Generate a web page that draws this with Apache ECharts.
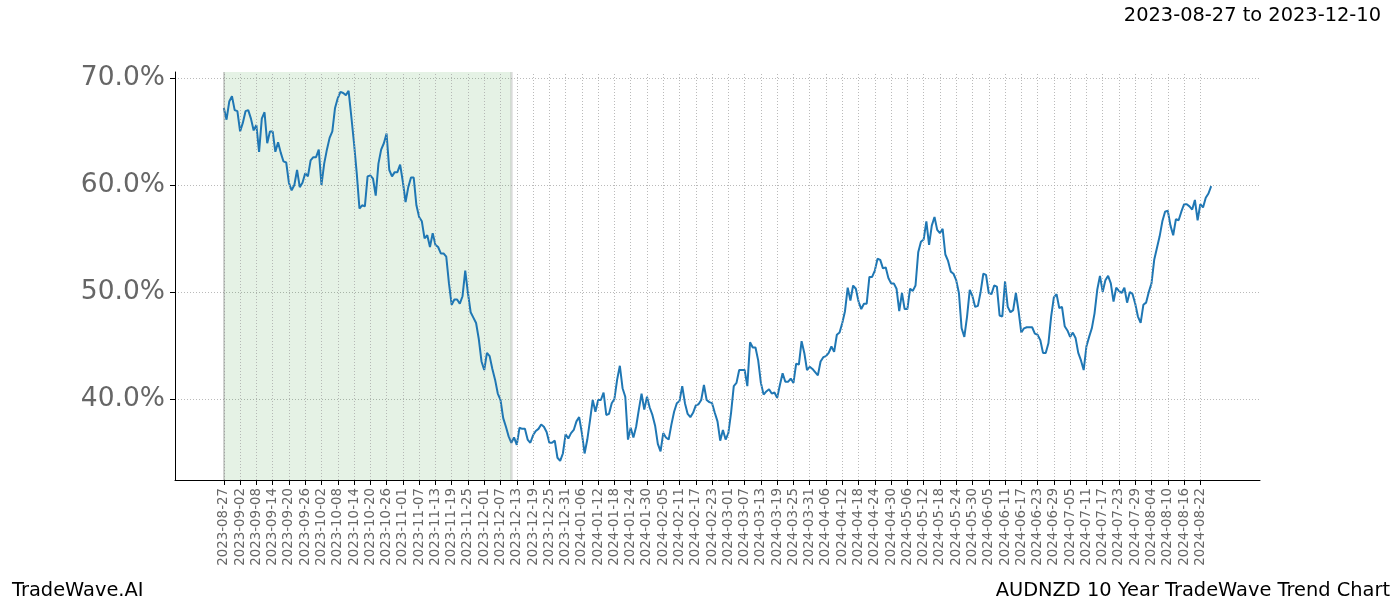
<!DOCTYPE html>
<html>
<head>
<meta charset="utf-8">
<script src="https://cdn.jsdelivr.net/npm/echarts@6/dist/echarts.min.js"></script>
<style>
html,body{margin:0;padding:0;background:#fff;}
#chart{width:1400px;height:600px;}
</style>
</head>
<body>
<div id="chart"></div>
<script>
// ---- data ----
const chartTitle = '2023-08-27 to 2023-12-10';
const leftFooter = 'TradeWave.AI';
const rightFooter = 'AUDNZD 10 Year TradeWave Trend Chart';

// daily trend strength values (%), one per calendar position starting 2023-08-27
const values = [
67.2,66.1,67.8,68.3,67.0,66.9,65.0,65.8,66.9,67.0,
66.2,65.1,65.6,63.1,66.2,66.8,63.9,65.0,65.0,63.1,
64.0,63.0,62.2,62.1,60.2,59.5,60.0,61.4,59.8,60.2,
61.1,60.8,62.3,62.6,62.6,63.3,60.0,62.0,63.3,64.4,
65.0,67.2,68.1,68.7,68.6,68.4,68.8,66.4,63.9,61.1,
57.8,58.1,58.0,60.8,60.9,60.6,59.0,62.0,63.3,63.9,
64.8,61.4,60.8,61.2,61.2,61.9,60.3,58.4,59.8,60.7,
60.7,58.1,57.0,56.6,55.0,55.3,54.2,55.5,54.4,54.2,
53.6,53.6,53.3,50.8,48.8,49.3,49.3,48.9,49.6,52.0,
49.9,48.1,47.6,47.1,45.6,43.5,42.7,44.3,44.0,42.8,
41.8,40.5,39.9,38.2,37.4,36.5,35.9,36.4,35.7,37.3,
37.2,37.2,36.2,35.9,36.6,37.0,37.2,37.6,37.4,36.9,
35.9,35.9,36.1,34.5,34.2,34.9,36.7,36.3,36.8,37.1,
37.9,38.3,36.8,34.9,36.2,38.0,39.9,38.8,39.9,39.9,
40.6,38.5,38.6,39.6,40.0,41.8,43.1,41.0,40.2,36.2,
37.3,36.4,37.4,39.0,40.5,39.0,40.2,39.2,38.5,37.5,
35.8,35.1,36.8,36.4,36.2,37.6,38.8,39.6,39.8,41.2,
39.6,38.6,38.3,38.7,39.4,39.5,39.9,41.3,39.9,39.7,
39.6,38.7,37.9,36.1,37.1,36.2,36.8,38.7,41.2,41.5,
42.7,42.7,42.7,41.2,45.3,44.8,44.8,43.6,41.5,40.4,
40.7,40.9,40.5,40.6,40.1,41.3,42.4,41.6,41.6,41.9,
41.5,43.3,43.2,45.4,44.3,42.7,43.0,42.8,42.5,42.2,
43.5,43.9,44.0,44.3,44.9,44.4,46.0,46.2,47.1,48.2,
50.4,49.2,50.6,50.3,49.1,48.4,48.9,48.9,51.4,51.4,
52.0,53.1,53.0,52.2,52.3,51.3,50.8,50.8,50.3,48.2,
49.9,48.4,48.4,50.3,50.1,50.6,53.7,54.7,54.9,56.6,
54.4,56.2,57.0,55.8,55.5,55.9,53.5,52.9,51.9,51.7,
51.1,49.9,46.6,45.8,47.7,50.2,49.6,48.6,48.7,50.0,
51.7,51.6,49.9,49.8,50.6,50.5,47.8,47.7,51.0,48.6,
48.1,48.3,49.9,48.2,46.2,46.6,46.7,46.7,46.7,46.1,
46.0,45.5,44.3,44.3,45.2,47.7,49.5,49.8,48.5,48.6,
46.8,46.4,45.8,46.2,45.7,44.3,43.6,42.7,44.9,45.8,
46.6,48.0,50.2,51.5,50.0,51.1,51.5,50.8,49.1,50.4,
50.1,49.9,50.4,49.0,50.0,49.8,48.9,47.7,47.1,48.8,
49.0,50.0,50.8,53.0,54.1,55.2,56.6,57.5,57.6,56.2,
55.3,56.8,56.7,57.5,58.2,58.2,58.0,57.7,58.6,56.7,
58.2,57.9,58.8,59.2,59.9
];

// x tick labels, one every 6 positions starting at position 0
const tickLabels = [
'2023-08-27','2023-09-02','2023-09-08','2023-09-14','2023-09-20','2023-09-26',
'2023-10-02','2023-10-08','2023-10-14','2023-10-20','2023-10-26','2023-11-01',
'2023-11-07','2023-11-13','2023-11-19','2023-11-25','2023-12-01','2023-12-07',
'2023-12-13','2023-12-19','2023-12-25','2023-12-31','2024-01-06','2024-01-12',
'2024-01-18','2024-01-24','2024-01-30','2024-02-05','2024-02-11','2024-02-17',
'2024-02-23','2024-03-01','2024-03-07','2024-03-13','2024-03-19','2024-03-25',
'2024-03-31','2024-04-06','2024-04-12','2024-04-18','2024-04-24','2024-04-30',
'2024-05-06','2024-05-12','2024-05-18','2024-05-24','2024-05-30','2024-06-05',
'2024-06-11','2024-06-17','2024-06-23','2024-06-29','2024-07-05','2024-07-11',
'2024-07-17','2024-07-23','2024-07-29','2024-08-04','2024-08-10','2024-08-16',
'2024-08-22'
];
const tickStep = 6;
const yTicks = [40, 50, 60, 70];
const shadeStart = 0;    // 2023-08-27
const shadeEnd = 106;    // just past 2023-12-10

// ---- axis padding (matplotlib-like margins) ----
const padBefore = 18;
const padAfter = 18;
const nPos = padBefore + values.length + padAfter;
const categories = [];
const seriesData = [];
for (let i = 0; i < nPos; i++) {
  categories.push(String(i - padBefore));
  const k = i - padBefore;
  seriesData.push(k >= 0 && k < values.length ? values[k] : null);
}
function isTick(index) {
  const k = index - padBefore;
  return k >= 0 && k % tickStep === 0 && (k / tickStep) < tickLabels.length;
}
// vertical grid lines at every labelled tick
const vGrid = tickLabels.map((_, j) => ({xAxis: String(j * tickStep)}));

const chart = echarts.init(document.getElementById('chart'), null, {renderer: 'canvas'});
const FONT = 'DejaVu Sans';
const GRID_COLOR = '#a8a8a8';
chart.setOption({
  animation: false,
  backgroundColor: '#ffffff',
  textStyle: {fontFamily: FONT},
  title: [
    {text: chartTitle, right: 14, top: 1,
     textStyle: {fontFamily: FONT, fontSize: 19.4, fontWeight: 'normal', color: '#000'}},
    {text: leftFooter, left: 7, top: 576,
     textStyle: {fontFamily: FONT, fontSize: 19.4, fontWeight: 'normal', color: '#000'}},
    {text: rightFooter, right: 5, top: 576,
     textStyle: {fontFamily: FONT, fontSize: 19.4, fontWeight: 'normal', color: '#000'}}
  ],
  grid: {left: 175, right: 140, top: 72, bottom: 120, containLabel: false},
  xAxis: {
    type: 'category',
    data: categories,
    boundaryGap: false,
    axisLine: {show: true, lineStyle: {color: '#000', width: 1}},
    axisTick: {show: true, length: 5, interval: (i) => isTick(i), lineStyle: {color: '#000', width: 1}},
    axisLabel: {
      show: true, rotate: 90, interval: (i) => isTick(i), margin: 8,
      fontFamily: FONT, fontSize: 13.4, color: '#666',
      formatter: (v, i) => { const k = i - padBefore; return isTick(i) ? tickLabels[k / tickStep] : ''; }
    },
    splitLine: {show: false}
  },
  yAxis: {
    type: 'value',
    min: 32.42, max: 70.56,
    minInterval: 10, maxInterval: 10,
    axisLine: {show: true, lineStyle: {color: '#000', width: 1}},
    axisTick: {show: true, length: 5, customValues: yTicks, lineStyle: {color: '#000', width: 1}},
    axisLabel: {
      show: true, margin: 10, customValues: yTicks,
      fontFamily: FONT, fontSize: 26.5, color: '#666',
      formatter: (v) => v.toFixed(1) + '%'
    },
    splitLine: {show: true,
      lineStyle: {color: GRID_COLOR, width: 0.8, type: [1, 2]}}
  },
  series: [
    {
      type: 'line',
      data: [],
      z: 1,
      silent: true,
      markArea: {
        silent: true,
        itemStyle: {color: 'rgba(0,128,0,0.1)', borderWidth: 0},
        data: [[{xAxis: String(shadeStart)}, {xAxis: String(shadeEnd)}]]
      },
      markLine: {
        silent: true,
        symbol: ['none', 'none'],
        label: {show: false},
        lineStyle: {color: GRID_COLOR, width: 0.8, type: [1, 2]},
        data: vGrid.concat([
          {xAxis: String(shadeStart), lineStyle: {color: 'rgba(128,128,128,0.35)', width: 2, type: 'solid'}},
          {xAxis: String(shadeEnd), lineStyle: {color: 'rgba(128,128,128,0.25)', width: 2.5, type: 'solid'}}
        ])
      }
    },
    {
      type: 'line',
      data: seriesData,
      showSymbol: false,
      symbol: 'none',
      connectNulls: false,
      lineStyle: {color: '#1f77b4', width: 2},
      itemStyle: {color: '#1f77b4'},
      z: 3
    }
  ]
});
</script>
</body>
</html>
